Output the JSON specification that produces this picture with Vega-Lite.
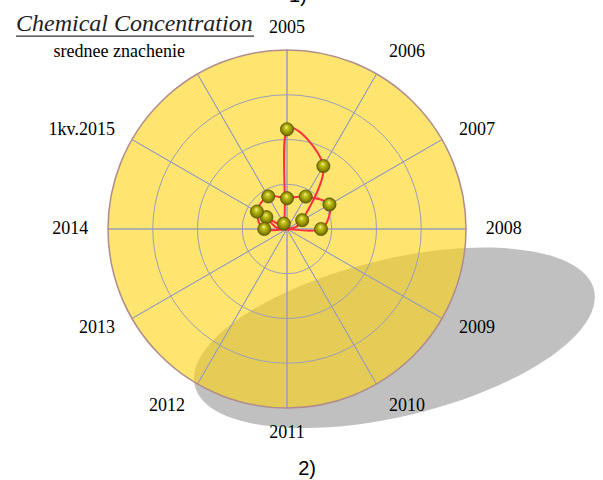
{
  "$schema": "https://vega.github.io/schema/vega-lite/v6.json",
  "width": 560,
  "height": 440,
  "autosize": {"type": "none"},
  "padding": {"left": 7, "top": 9, "right": 36, "bottom": 31},
  "background": "white",
  "config": {"view": {"stroke": null}},
  "datasets": {
    "cats": [
      {"idx": 0, "cat": "2005"},
      {"idx": 1, "cat": "2006"},
      {"idx": 2, "cat": "2007"},
      {"idx": 3, "cat": "2008"},
      {"idx": 4, "cat": "2009"},
      {"idx": 5, "cat": "2010"},
      {"idx": 6, "cat": "2011"},
      {"idx": 7, "cat": "2012"},
      {"idx": 8, "cat": "2013"},
      {"idx": 9, "cat": "2014"},
      {"idx": 10, "cat": "1kv.2015"},
      {"idx": 11, "cat": "srednee znachenie"}
    ],
    "rings": [{"ring": 25}, {"ring": 50}, {"ring": 75}],
    "titles": [{"label": "Chemical Concentration"}],
    "values": [
      {"series": "s1", "idx": 0, "cat": "2005", "value": 55.7},
      {"series": "s1", "idx": 1, "cat": "2006", "value": 40.6},
      {"series": "s1", "idx": 2, "cat": "2007", "value": 9.8},
      {"series": "s1", "idx": 3, "cat": "2008", "value": 0},
      {"series": "s1", "idx": 4, "cat": "2009", "value": 0},
      {"series": "s1", "idx": 5, "cat": "2010", "value": 0},
      {"series": "s1", "idx": 6, "cat": "2011", "value": 0},
      {"series": "s1", "idx": 7, "cat": "2012", "value": 0},
      {"series": "s1", "idx": 8, "cat": "2013", "value": 0},
      {"series": "s1", "idx": 9, "cat": "2014", "value": 0},
      {"series": "s1", "idx": 10, "cat": "1kv.2015", "value": 13.3},
      {"series": "s1", "idx": 11, "cat": "srednee znachenie", "value": 3.5},
      {"series": "s2", "idx": 0, "cat": "2005", "value": 17.2},
      {"series": "s2", "idx": 1, "cat": "2006", "value": 20.9},
      {"series": "s2", "idx": 2, "cat": "2007", "value": 27.4},
      {"series": "s2", "idx": 3, "cat": "2008", "value": 19.0},
      {"series": "s2", "idx": 4, "cat": "2009", "value": 0},
      {"series": "s2", "idx": 5, "cat": "2010", "value": 0},
      {"series": "s2", "idx": 6, "cat": "2011", "value": 0},
      {"series": "s2", "idx": 7, "cat": "2012", "value": 0},
      {"series": "s2", "idx": 8, "cat": "2013", "value": 0},
      {"series": "s2", "idx": 9, "cat": "2014", "value": 12.7},
      {"series": "s2", "idx": 10, "cat": "1kv.2015", "value": 19.4},
      {"series": "s2", "idx": 11, "cat": "srednee znachenie", "value": 21.0}
    ]
  },
  "layer": [
    {
      "data": {"name": "cats"},
      "transform": [{"filter": "datum.idx == 0"}],
      "mark": {
        "type": "point",
        "shape": "M -1 0 C -1 -0.2115 -0.5523 -0.383 0 -0.383 C 0.5523 -0.383 1 -0.2115 1 0 C 1 0.2115 0.5523 0.383 0 0.383 C -0.5523 0.383 -1 0.2115 -1 0 Z",
        "size": 168500,
        "angle": -13.5,
        "filled": true,
        "fill": "#c0c0c0",
        "opacity": 1,
        "strokeWidth": 0
      },
      "encoding": {
        "x": {"datum": 60, "type": "quantitative", "scale": {"domain": [-156.425, 156.425], "zero": false, "nice": false}, "axis": null},
        "y": {"datum": -60.8, "type": "quantitative", "scale": {"domain": [-122.905, 122.905], "zero": false, "nice": false}, "axis": null}
      }
    },
    {
      "data": {"name": "cats"},
      "transform": [{"filter": "datum.idx == 0"}],
      "mark": {"type": "arc", "fill": "#fdd411", "fillOpacity": 0.6, "strokeWidth": 0},
      "encoding": {
        "theta": {"datum": 0, "type": "quantitative", "scale": {"domain": [0, 12], "range": [0, 6.283185307179586]}},
        "theta2": {"datum": 12},
        "radius": {"datum": 100, "type": "quantitative", "scale": {"type": "linear", "domain": [0, 100], "range": [0, 179], "zero": true}}
      }
    },
    {
      "data": {"name": "rings"},
      "mark": {"type": "arc", "filled": false, "stroke": "#9a9eba", "strokeWidth": 1},
      "encoding": {
        "theta": {"datum": 0, "type": "quantitative", "scale": {"domain": [0, 12], "range": [0, 6.283185307179586]}},
        "theta2": {"datum": 12},
        "radius": {"field": "ring", "type": "quantitative", "stack": false, "scale": {"type": "linear", "domain": [0, 100], "range": [0, 179], "zero": true}},
        "detail": {"field": "ring"}
      }
    },
    {
      "data": {"name": "cats"},
      "mark": {"type": "arc", "filled": false, "stroke": "#9a9eba", "strokeWidth": 1},
      "encoding": {
        "theta": {"field": "idx", "type": "quantitative", "stack": false, "scale": {"domain": [0, 12], "range": [0, 6.283185307179586]}},
        "theta2": {"field": "idx"},
        "radius": {"datum": 100, "type": "quantitative", "scale": {"type": "linear", "domain": [0, 100], "range": [0, 179], "zero": true}}
      }
    },
    {
      "data": {"name": "cats"},
      "transform": [{"filter": "datum.idx == 0"}],
      "mark": {"type": "arc", "filled": false, "stroke": "#b08c8c", "strokeWidth": 1.5},
      "encoding": {
        "theta": {"datum": 0, "type": "quantitative", "scale": {"domain": [0, 12], "range": [0, 6.283185307179586]}},
        "theta2": {"datum": 12},
        "radius": {"datum": 100, "type": "quantitative", "scale": {"type": "linear", "domain": [0, 100], "range": [0, 179], "zero": true}}
      }
    },
    {
      "data": {"name": "values"},
      "transform": [
        {"calculate": "datum.value * sin(datum.idx * PI / 6)", "as": "px"},
        {"calculate": "datum.value * cos(datum.idx * PI / 6)", "as": "py"}
      ],
      "mark": {"type": "line", "interpolate": "cardinal-closed", "color": "#ff2e3f", "strokeWidth": 2},
      "encoding": {
        "x": {"field": "px", "type": "quantitative", "scale": {"domain": [-156.425, 156.425], "zero": false, "nice": false}, "axis": null},
        "y": {"field": "py", "type": "quantitative", "scale": {"domain": [-122.905, 122.905], "zero": false, "nice": false}, "axis": null},
        "detail": {"field": "series"},
        "order": {"field": "idx"}
      }
    },
    {
      "data": {"name": "values"},
      "transform": [
        {"filter": "datum.value > 0"},
        {"calculate": "datum.value * sin(datum.idx * PI / 6)", "as": "px"},
        {"calculate": "datum.value * cos(datum.idx * PI / 6)", "as": "py"}
      ],
      "mark": {
        "type": "point",
        "shape": "circle",
        "size": 175,
        "filled": true,
        "opacity": 1,
        "fill": {
          "gradient": "radial",
          "x1": 0.45, "y1": 0.32, "r1": 0,
          "x2": 0.5, "y2": 0.5, "r2": 0.55,
          "stops": [
            {"offset": 0, "color": "#f6f6b4"},
            {"offset": 0.25, "color": "#c9c71c"},
            {"offset": 0.7, "color": "#8c8a00"},
            {"offset": 1, "color": "#5a5800"}
          ]
        },
        "stroke": "#4a4800",
        "strokeWidth": 0.6
      },
      "encoding": {
        "x": {"field": "px", "type": "quantitative", "scale": {"domain": [-156.425, 156.425], "zero": false, "nice": false}, "axis": null},
        "y": {"field": "py", "type": "quantitative", "scale": {"domain": [-122.905, 122.905], "zero": false, "nice": false}, "axis": null}
      }
    },
    {
      "data": {"name": "cats"},
      "transform": [{"filter": "datum.idx == 0"}],
      "mark": {"type": "text", "font": "Liberation Serif", "fontSize": 18, "color": "#000000", "align": "center", "baseline": "bottom"},
      "encoding": {
        "theta": {"field": "idx", "type": "quantitative", "stack": false, "scale": {"domain": [0, 12], "range": [0, 6.283185307179586]}},
        "radius": {"datum": 107, "type": "quantitative", "stack": false, "scale": {"type": "linear", "domain": [0, 100], "range": [0, 179], "zero": true}},
        "text": {"field": "cat"}
      }
    },
    {
      "data": {"name": "cats"},
      "transform": [{"filter": "datum.idx == 6"}],
      "mark": {"type": "text", "font": "Liberation Serif", "fontSize": 18, "color": "#000000", "align": "center", "baseline": "top"},
      "encoding": {
        "theta": {"field": "idx", "type": "quantitative", "stack": false, "scale": {"domain": [0, 12], "range": [0, 6.283185307179586]}},
        "radius": {"datum": 109, "type": "quantitative", "stack": false, "scale": {"type": "linear", "domain": [0, 100], "range": [0, 179], "zero": true}},
        "text": {"field": "cat"}
      }
    },
    {
      "data": {"name": "cats"},
      "transform": [{"filter": "datum.idx == 1 || datum.idx == 5"}],
      "mark": {"type": "text", "font": "Liberation Serif", "fontSize": 18, "color": "#000000", "align": "left", "baseline": "middle"},
      "encoding": {
        "theta": {"field": "idx", "type": "quantitative", "stack": false, "scale": {"domain": [0, 12], "range": [0, 6.283185307179586]}},
        "radius": {"datum": 114, "type": "quantitative", "stack": false, "scale": {"type": "linear", "domain": [0, 100], "range": [0, 179], "zero": true}},
        "text": {"field": "cat"}
      }
    },
    {
      "data": {"name": "cats"},
      "transform": [{"filter": "datum.idx >= 2 && datum.idx <= 4"}],
      "mark": {"type": "text", "font": "Liberation Serif", "fontSize": 18, "color": "#000000", "align": "left", "baseline": "middle"},
      "encoding": {
        "theta": {"field": "idx", "type": "quantitative", "stack": false, "scale": {"domain": [0, 12], "range": [0, 6.283185307179586]}},
        "radius": {"datum": 111, "type": "quantitative", "stack": false, "scale": {"type": "linear", "domain": [0, 100], "range": [0, 179], "zero": true}},
        "text": {"field": "cat"}
      }
    },
    {
      "data": {"name": "cats"},
      "transform": [{"filter": "datum.idx == 7 || datum.idx == 11"}],
      "mark": {"type": "text", "font": "Liberation Serif", "fontSize": 18, "color": "#000000", "align": "right", "baseline": "middle"},
      "encoding": {
        "theta": {"field": "idx", "type": "quantitative", "stack": false, "scale": {"domain": [0, 12], "range": [0, 6.283185307179586]}},
        "radius": {"datum": 114, "type": "quantitative", "stack": false, "scale": {"type": "linear", "domain": [0, 100], "range": [0, 179], "zero": true}},
        "text": {"field": "cat"}
      }
    },
    {
      "data": {"name": "cats"},
      "transform": [{"filter": "datum.idx >= 8 && datum.idx <= 10"}],
      "mark": {"type": "text", "font": "Liberation Serif", "fontSize": 18, "color": "#000000", "align": "right", "baseline": "middle"},
      "encoding": {
        "theta": {"field": "idx", "type": "quantitative", "stack": false, "scale": {"domain": [0, 12], "range": [0, 6.283185307179586]}},
        "radius": {"datum": 111, "type": "quantitative", "stack": false, "scale": {"type": "linear", "domain": [0, 100], "range": [0, 179], "zero": true}},
        "text": {"field": "cat"}
      }
    },
    {
      "data": {"name": "titles"},
      "mark": {"type": "text", "font": "'Liberation Serif', 'Times New Roman', 'DejaVu Serif', serif", "fontStyle": "italic", "fontSize": 24, "color": "#1e1e1e", "align": "left", "baseline": "alphabetic"},
      "encoding": {
        "x": {"datum": -151.4, "type": "quantitative", "scale": {"domain": [-156.425, 156.425], "zero": false, "nice": false}, "axis": null},
        "y": {"datum": 110.6, "type": "quantitative", "scale": {"domain": [-122.905, 122.905], "zero": false, "nice": false}, "axis": null},
        "text": {"field": "label"}
      }
    },
    {
      "data": {"name": "titles"},
      "mark": {"type": "rule", "color": "#333333", "strokeWidth": 1.3},
      "encoding": {
        "x": {"datum": -151.4, "type": "quantitative", "scale": {"domain": [-156.425, 156.425], "zero": false, "nice": false}, "axis": null},
        "x2": {"datum": -18.4},
        "y": {"datum": 107.8, "type": "quantitative", "scale": {"domain": [-122.905, 122.905], "zero": false, "nice": false}, "axis": null}
      }
    },
    {
      "data": {"name": "titles"},
      "mark": {"type": "text", "text": "1)", "font": "Liberation Sans", "fontSize": 20, "color": "#000000", "align": "center", "baseline": "alphabetic"},
      "encoding": {
        "x": {"datum": 6.1, "type": "quantitative", "scale": {"domain": [-156.425, 156.425], "zero": false, "nice": false}, "axis": null},
        "y": {"datum": 126.8, "type": "quantitative", "scale": {"domain": [-122.905, 122.905], "zero": false, "nice": false}, "axis": null}
      }
    },
    {
      "data": {"name": "titles"},
      "mark": {"type": "text", "text": "2)", "font": "Liberation Sans", "fontSize": 20, "color": "#000000", "align": "center", "baseline": "alphabetic"},
      "encoding": {
        "x": {"datum": 11.2, "type": "quantitative", "scale": {"domain": [-156.425, 156.425], "zero": false, "nice": false}, "axis": null},
        "y": {"datum": -137.4, "type": "quantitative", "scale": {"domain": [-122.905, 122.905], "zero": false, "nice": false}, "axis": null}
      }
    }
  ]
}
